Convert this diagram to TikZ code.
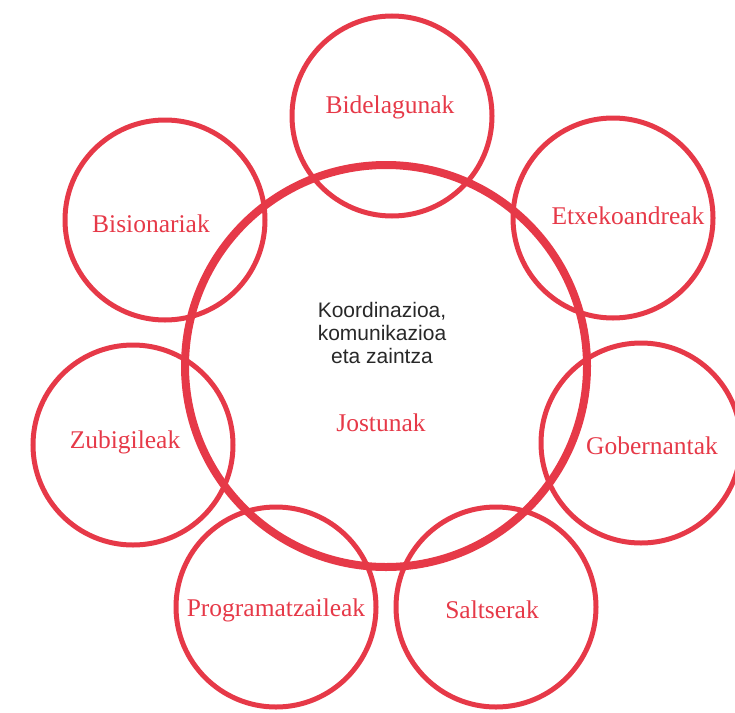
\documentclass[tikz,border=0pt]{standalone}
\usepackage{fontspec}
\setmainfont{Liberation Serif}
\newfontfamily\centerfont{Liberation Sans}
\definecolor{inkred}{RGB}{230,57,72}
\definecolor{darktext}{RGB}{40,40,40}
\tikzset{
  ring/.style={circle, draw=inkred, line width=5pt, minimum size=200pt, inner sep=0pt},
  bigring/.style={circle, draw=inkred, line width=8pt, minimum size=402pt, inner sep=0pt},
  lbl/.style={text=inkred, font=\fontsize{25.5}{28}\selectfont},
}
\begin{document}
\begin{tikzpicture}[x=1pt,y=-1pt]
\useasboundingbox (0,0) rectangle (735,712);
\node[ring] (bide) at (392,116) {};
\node[ring] (bisi) at (165,220) {};
\node[ring] (etxe) at (613,218) {};
\node[ring] (zubi) at (133,445) {};
\node[ring] (gobe) at (641,443) {};
\node[ring] (prog) at (276,607) {};
\node[ring] (salt) at (496,607) {};
\node[bigring] (jost) at (386,366) {};
\node[lbl] (bidet) at (390,107) {Bidelagunak};
\node[lbl] (bisit) at (151,224) {Bisionariak};
\node[lbl] (etxet) at (628,216) {Etxekoandreak};
\node[lbl] (zubit) at (125,442) {Zubigileak};
\node[lbl] (gobet) at (652,446) {Gobernantak};
\node[lbl] (progt) at (276,610) {Programatzaileak};
\node[lbl] (saltt) at (492,610) {Saltserak};
\node[lbl] (jostt) at (381,423) {Jostunak};
\node[font=\centerfont\fontsize{21}{23}\selectfont, text=darktext, align=center] (koor) at (382,333) {Koordinazioa,\\komunikazioa\\eta zaintza};
\end{tikzpicture}
\end{document}
